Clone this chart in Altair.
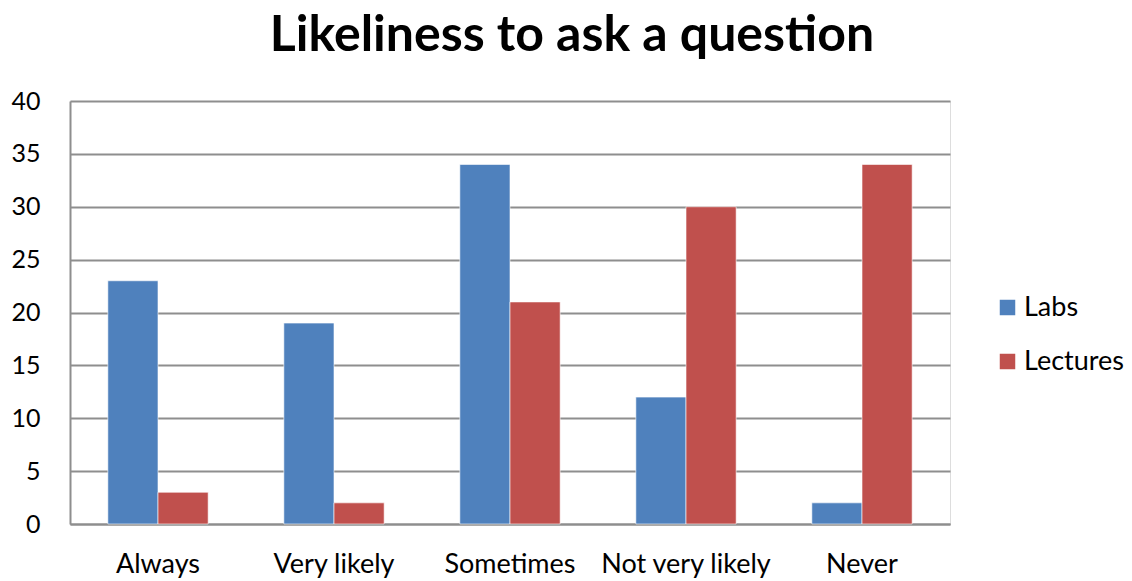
import altair as alt
import pandas as pd

categories = ["Always", "Very likely", "Sometimes", "Not very likely", "Never"]
labs = [23, 19, 34, 12, 2]
lectures = [3, 2, 21, 30, 34]
series = ["Labs", "Lectures"]
colors = ["#4F81BD", "#C0504D"]
y_ticks = [0, 5, 10, 15, 20, 25, 30, 35, 40]

rows = []
for c, a, b in zip(categories, labs, lectures):
    rows.append({"category": c, "series": "Labs", "value": a})
    rows.append({"category": c, "series": "Lectures", "value": b})
df = pd.DataFrame(rows)

FONT = "Lato"

chart = (
    alt.Chart(df)
    .mark_bar(stroke="white", strokeWidth=0.6)
    .encode(
        x=alt.X(
            "category:N",
            sort=categories,
            title=None,
            scale=alt.Scale(paddingInner=0.43, paddingOuter=0.215),
            axis=alt.Axis(
                labelAngle=0,
                labelFontSize=27,
                labelFont=FONT,
                labelColor="#000000",
                labelPadding=27,
                ticks=False,
                domainColor="#8E8E8E",
                domainWidth=2,
            ),
        ),
        xOffset=alt.XOffset("series:N", sort=series),
        y=alt.Y(
            "value:Q",
            title=None,
            scale=alt.Scale(domain=[0, 40], nice=False),
            axis=alt.Axis(
                values=y_ticks,
                labelFontSize=25,
                labelFont=FONT,
                labelColor="#000000",
                labelPadding=30,
                ticks=False,
                domainColor="#8E8E8E",
                domainWidth=2,
                gridColor="#8E8E8E",
                gridWidth=2,
            ),
        ),
        color=alt.Color(
            "series:N",
            sort=series,
            scale=alt.Scale(domain=series, range=colors),
            legend=alt.Legend(
                title=None,
                orient="none",
                legendX=924,
                legendY=193,
                symbolType="square",
                symbolSize=240,
                symbolStrokeWidth=0,
                labelFontSize=27,
                labelFont=FONT,
                labelColor="#000000",
                rowPadding=26,
                labelOffset=3,
            ),
        ),
    )
    .properties(
        width=880,
        height=423,
        title=alt.TitleParams(
            "Likeliness to ask a question",
            font=FONT,
            fontSize=50,
            fontWeight="bold",
            color="#000000",
            anchor="middle",
            dx=62,
            offset=28,
        ),
        padding={"left": 70, "top": 101, "right": 182, "bottom": 57},
        autosize=alt.AutoSizeParams(type="none"),
    )
    .configure_view(stroke=None)
    .configure(background="white")
)

chart.save("out.html", embed_options={"renderer": "svg", "actions": False})
